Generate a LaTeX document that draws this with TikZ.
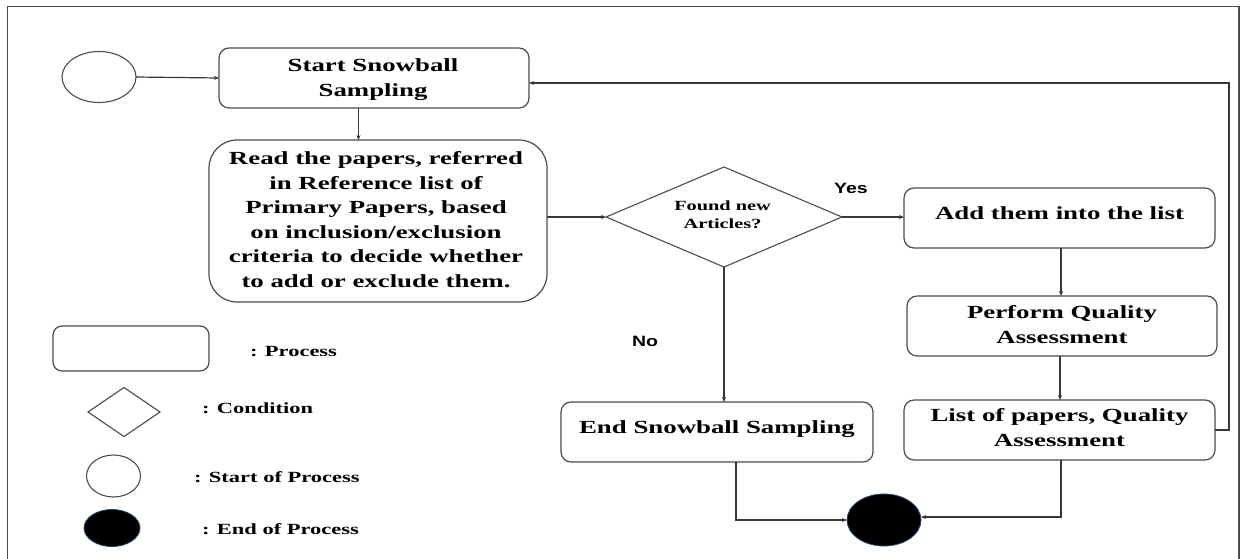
\documentclass[tikz,border=0pt]{standalone}
\usepackage{fontspec}
\setmainfont{Liberation Serif}[FakeStretch=1.45]
\newfontfamily\labelsans{Liberation Sans}[FakeStretch=1.3]
\usetikzlibrary{arrows.meta,shapes.geometric}

\definecolor{linegray}{gray}{0.22}
\definecolor{boxgray}{gray}{0.30}
\definecolor{endrim}{RGB}{40,70,110}

\begin{document}
\begin{tikzpicture}[x=1pt,y=-1pt,
  every node/.style={inner sep=0pt,outer sep=0pt},
  procbox/.style={draw=boxgray,line width=1.2pt,rounded corners=10pt,fill=white,rectangle},
  decbox/.style={draw=boxgray,line width=1.1pt,diamond,aspect=2},
  startdot/.style={draw=boxgray,line width=1.1pt,ellipse},
  enddot/.style={draw=endrim,line width=0.8pt,fill=black,ellipse},
  % multi-line nodes are anchored at the baseline of their last line
  maintext/.style={font=\fontsize{18.5}{24.5}\selectfont\bfseries,align=center,anchor=base},
  smalltext/.style={font=\fontsize{14}{18}\selectfont\bfseries,align=center,anchor=base},
  legendtext/.style={font=\fontsize{15.5}{19}\selectfont\bfseries,anchor=base west},
  branchtext/.style={font=\labelsans\fontsize{15}{18}\selectfont\bfseries,anchor=base},
  flow/.style={draw=linegray,line width=1.2pt,-{Stealth[length=5pt,width=4pt]}},
  frameline/.style={draw=boxgray,line width=1.5pt}
]
\useasboundingbox (0,0) rectangle (1242,558);

% outer frame (open at the bottom)
\draw[frameline] (7.5,560) -- (7.5,6.5) -- (1239,6.5) -- (1239,560);

% main flow shapes
\node[startdot,minimum width=74pt,minimum height=51pt] (begin) at (99,77) {};
\node[procbox,minimum width=310pt,minimum height=60pt] (start) at (374,78) {};
\node[procbox,rounded corners=28pt,minimum width=338pt,minimum height=162pt] (read) at (378,221) {};
\node[decbox,minimum width=236pt,minimum height=100pt] (found) at (724,217) {};
\node[procbox,minimum width=311pt,minimum height=60pt] (add) at (1059.5,218) {};
\node[procbox,minimum width=310pt,minimum height=60pt] (perf) at (1062,326) {};
\node[procbox,minimum width=311pt,minimum height=60pt] (list) at (1059.5,430) {};
\node[procbox,minimum width=312pt,minimum height=60pt] (stop) at (717,432) {};
\node[enddot,minimum width=74pt,minimum height=52pt] (finish) at (884,520) {};

% texts of the flow
\node[maintext] (startT) at (373,96) {Start Snowball\\Sampling};
\node[maintext] (readT) at (376,287) {Read the papers, referred\\in Reference list of\\Primary Papers, based\\on inclusion/exclusion\\criteria to decide whether\\to add or exclude them.};
\node[smalltext] (foundT) at (722.5,228) {Found new\\Articles?};
\node[maintext] (addT) at (1059.5,219) {Add them into the list};
\node[maintext] (perfT) at (1062,343) {Perform Quality\\Assessment};
\node[maintext] (listT) at (1059.5,446) {List of papers, Quality\\Assessment};
\node[maintext] (stopT) at (717,433) {End Snowball Sampling};
\node[branchtext] (yes) at (851,193) {Yes};
\node[branchtext] (no) at (645,346) {No};

% connectors
\coordinate (trunk) at (1229,0);
\draw[flow] (begin.east) -- (start.west);
\draw[flow] ([xshift=-15.5pt]start.south) -- ([xshift=-15.5pt]start.south |- read.north);
\draw[flow] (found.west -| read.east) -- (found.west);
\draw[flow] (found.east) -- (found.east -| add.west);
\draw[flow] ([xshift=1.5pt]add.south) -- ([xshift=1.5pt]add.south |- perf.north);
\draw[flow] ([xshift=-2pt]perf.south) -- ([xshift=-2pt]perf.south |- list.north);
\draw[flow] (found.south) -- (found.south |- stop.north);
\draw[flow] (list.east) -- (list.east -| trunk) |- ([yshift=-5pt]start.east);
\draw[flow] ([xshift=19pt]stop.south) |- (finish.west);
\draw[flow] ([xshift=1.5pt]list.south) |- ([yshift=3pt]finish.east);

% legend
\node[procbox,rounded corners=9pt,minimum width=156pt,minimum height=45pt] (legproc) at (131,348.5) {};
\node[decbox,minimum width=72pt,minimum height=49pt] (legcond) at (124,412) {};
\node[startdot,minimum width=54pt,minimum height=42pt] (legstart) at (113.5,476) {};
\node[enddot,minimum width=56pt,minimum height=37pt] (legend) at (112,528) {};
\node[legendtext] (legprocT) at (250,356) {: Process};
\node[legendtext] (legcondT) at (202,413) {: Condition};
\node[legendtext] (legstartT) at (194,482) {: Start of Process};
\node[legendtext] (legendT) at (202,534) {: End of Process};
\end{tikzpicture}
\end{document}
